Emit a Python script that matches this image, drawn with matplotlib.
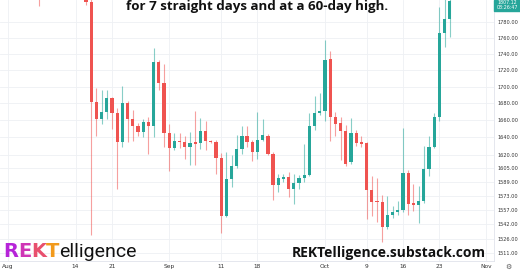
import numpy as np
import pandas as pd
import matplotlib
matplotlib.use("Agg")
import matplotlib.pyplot as plt
import matplotlib.dates as mdates
from matplotlib.patches import Rectangle

# daily candles (ETH/USD style, Aug 7 wick + Aug 16 .. Oct 25)
dates = ["2023-08-07"] + list(pd.date_range("2023-08-16", "2023-10-25").strftime("%Y-%m-%d"))
opens = [1828, 1827, 1806, 1682, 1662, 1670, 1686, 1669, 1634, 1680, 1662, 1653, 1646, 1658,
         1653, 1730, 1705,
         1645, 1628, 1636, 1634, 1629, 1634, 1633, 1647, 1636, 1634, 1616, 1551, 1592, 1607,
         1626, 1641, 1634, 1623, 1637, 1642, 1621, 1585, 1592, 1594, 1581, 1588, 1593, 1597,
         1653, 1668,
         1671, 1734, 1664, 1657, 1647, 1611, 1645, 1634, 1633, 1580, 1567, 1566, 1539, 1552,
         1555, 1557, 1599, 1565, 1563, 1567, 1604, 1629, 1664, 1766, 1784]
highs = [1835, 1838, 1815, 1699, 1696, 1696, 1688, 1675, 1701, 1683, 1672, 1657, 1661, 1664,
         1747, 1732, 1728,
         1655, 1645, 1645, 1642, 1646, 1671, 1663, 1659, 1637, 1637, 1622, 1623, 1619, 1643,
         1653, 1653, 1637, 1670, 1661, 1644, 1623, 1598, 1598, 1600, 1598, 1597, 1632, 1668,
         1689, 1693,
         1757, 1744, 1670, 1664, 1654, 1663, 1649, 1642, 1634, 1595, 1593, 1574, 1573, 1562,
         1567, 1651, 1602, 1586, 1584, 1630, 1642, 1669, 1799, 1812, 1815]
lows = [1800, 1802, 1530, 1641, 1655, 1661, 1650, 1581, 1629, 1634, 1636, 1642, 1640, 1621,
        1640, 1696, 1629,
        1601, 1625, 1627, 1615, 1608, 1608, 1626, 1625, 1633, 1598, 1532, 1550, 1583, 1605,
        1621, 1629, 1613, 1615, 1636, 1620, 1569, 1578, 1589, 1572, 1564, 1581, 1589, 1595,
        1649, 1666,
        1659, 1636, 1642, 1614, 1607, 1609, 1630, 1629, 1548, 1551, 1544, 1522, 1537, 1549,
        1552, 1555, 1552, 1556, 1543, 1565, 1596, 1627, 1659, 1749, 1761]
closes = [1822, 1806, 1682, 1662, 1670, 1686, 1669, 1634, 1680, 1661, 1653, 1646, 1658, 1653,
          1730, 1705, 1645,
          1628, 1636, 1634, 1629, 1633, 1632, 1647, 1636, 1634, 1616, 1551, 1592, 1607, 1626,
          1641, 1634, 1623, 1637, 1643, 1621, 1585, 1593, 1594, 1581, 1588, 1593, 1597, 1653,
          1668, 1671,
          1733, 1664, 1656, 1647, 1609, 1645, 1633, 1632, 1580, 1566, 1566, 1539, 1552, 1555,
          1557, 1599, 1564, 1563, 1567, 1604, 1629, 1664, 1766, 1784, 1807.12]

price_ticks = [1511, 1526, 1542, 1557, 1573, 1589, 1605, 1620, 1640, 1660, 1680, 1700,
               1720, 1740, 1760, 1780]
date_ticks = ["2023-08-01", "2023-08-14", "2023-08-21", "2023-09-01", "2023-09-11",
              "2023-09-18", "2023-10-01", "2023-10-09", "2023-10-16", "2023-10-23",
              "2023-11-01"]
date_labels = ["Aug", "14", "21", "Sep", "11", "18", "Oct", "9", "16", "23", "Nov"]

UP = "#26a69a"
DOWN = "#ef5350"

fig = plt.figure(figsize=(5.2, 2.72), dpi=100)
fig.patch.set_facecolor("white")
ax = fig.add_axes([0, 11 / 272, 494 / 520, 261 / 272])

x = mdates.date2num(pd.to_datetime(dates))
o = np.array(opens, float)
h = np.array(highs, float)
l = np.array(lows, float)
c = np.array(closes, float)
up = c >= o
cols = np.where(up, UP, DOWN)

ax.vlines(x, l, h, colors=cols, linewidth=0.8, alpha=0.55, zorder=2)
bottoms = np.minimum(o, c)
heights = np.maximum(np.abs(c - o), 0.6)
ax.bar(x, heights, bottom=bottoms, width=0.62, color=cols, linewidth=0, zorder=3)

ax.set_yscale("log")
ax.set_ylim(1502, 1808)
x0 = mdates.date2num(pd.Timestamp("2023-08-01"))
ax.set_xlim(x0 - 1.54, x0 + 93.5)

ax.yaxis.set_major_locator(matplotlib.ticker.FixedLocator(price_ticks))
ax.yaxis.set_minor_locator(matplotlib.ticker.NullLocator())
ax.set_yticks(price_ticks)
ax.set_yticklabels(["%.2f" % p for p in price_ticks])
ax.yaxis.tick_right()
ax.set_xticks(mdates.date2num(pd.to_datetime(date_ticks)))
ax.set_xticklabels(date_labels)
ax.tick_params(axis="both", length=0, labelsize=4.2, labelcolor="#333333", pad=2.5)
ax.tick_params(axis="y", labelsize=3.6, pad=2.2)
ax.grid(True, color="#eef0f4", linewidth=0.6, zorder=0)
for side in ["top", "left"]:
    ax.spines[side].set_visible(False)
for side in ["right", "bottom"]:
    ax.spines[side].set_color("#e0e3eb")
    ax.spines[side].set_linewidth(0.6)

# last price tag
fig.patches.append(Rectangle((494 / 520, 1 - 11 / 272), 26 / 520, 11 / 272,
                             transform=fig.transFigure, color=UP, zorder=5))
fig.text(507 / 520, 1 - 2 / 272, "1807.12", color="white", fontsize=3.4,
         ha="center", va="center", zorder=6)
fig.text(507 / 520, 1 - 7.5 / 272, "08:26:47", color="white", fontsize=3.4,
         ha="center", va="center", zorder=6)
fig.text(508 / 520, 1 - 267 / 272, "\u2699", color="#555555", fontsize=5,
         ha="center", va="center")

# headline (second line of the title)
fig.text(257 / 520, 1 - 10 / 272, "for 7 straight days and at a 60-day high.",
         fontsize=9.6, fontweight="bold", family="Open Sans", color="#111111",
         ha="center", va="baseline")

# url
fig.text(389 / 520, 1 - 253 / 272, "REKTelligence.substack.com", fontsize=10,
         fontweight="bold", family="Open Sans", color="#111111",
         ha="center", va="center")

# logo with coloured REKT
renderer = fig.canvas.get_renderer()
logo_parts = [("R", "#b624d8", "bold", "DejaVu Sans"), ("E", "#cf35b5", "bold", "DejaVu Sans"),
              ("K", "#e8506e", "bold", "DejaVu Sans"), ("T", "#f29a1c", "bold", "DejaVu Sans"),
              ("elligence", "#111111", "normal", "Roboto")]
px = 3
for txt, col, wt, fam in logo_parts:
    t = fig.text(px / 520, 1 - 257 / 272, txt, fontsize=14, fontweight=wt,
                 family=fam, color=col, ha="left", va="baseline")
    bb = t.get_window_extent(renderer)
    px += bb.width

fig.savefig("out.png", dpi=100)
